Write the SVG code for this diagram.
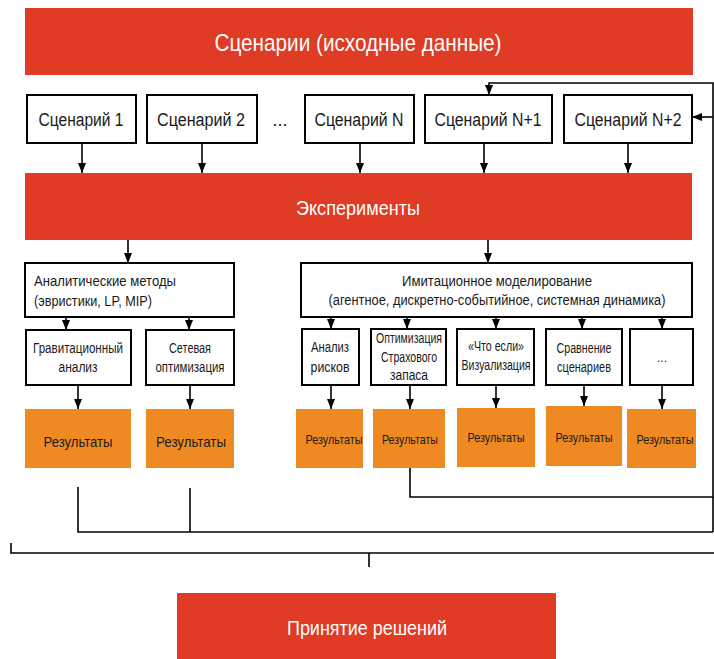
<svg xmlns="http://www.w3.org/2000/svg" width="714" height="659" viewBox="0 0 714 659">
<defs>
<marker id="arr" markerUnits="userSpaceOnUse" markerWidth="10" markerHeight="10" viewBox="0 0 10 10" refX="10" refY="5" orient="auto">
<path d="M0,1 L10,5 L0,9 Z" fill="#000"/>
</marker>
<style>
.red{fill:#E03B24}
.org{fill:#EF8A22}
.box{fill:#fff;stroke:#000;stroke-width:2}
.wt{fill:#fff;font-family:"Liberation Sans",Arial,sans-serif;text-anchor:middle}
.bt{fill:#1a1a1a;font-family:"Liberation Sans",Arial,sans-serif;text-anchor:middle}
.lt{fill:#1a1a1a;font-family:"Liberation Sans",Arial,sans-serif}
.c{fill:none;stroke:#000;stroke-width:1.6}
.a{fill:none;stroke:#000;stroke-width:1.6;marker-end:url(#arr)}
</style>
</defs>
<rect width="714" height="659" fill="#fff"/>

<g id="connectors">
<path class="a" d="M82 143 V173"/>
<path class="a" d="M202 143 V173"/>
<path class="a" d="M360 143 V173"/>
<path class="a" d="M484 143 V173"/>
<path class="a" d="M628 143 V173"/>
<path class="a" d="M128 240 V263"/>
<path class="a" d="M488 240 V263"/>
<path class="a" d="M66 317 V330"/>
<path class="a" d="M189 317 V330"/>
<path class="a" d="M331 317 V329"/>
<path class="a" d="M407 317 V329"/>
<path class="a" d="M496 317 V329"/>
<path class="a" d="M582 317 V329"/>
<path class="a" d="M662 317 V329"/>
<path class="a" d="M78 385 V409"/>
<path class="a" d="M190 385 V409"/>
<path class="a" d="M331 385 V409"/>
<path class="a" d="M410 385 V409"/>
<path class="a" d="M496 385 V408"/>
<path class="a" d="M584 385 V406"/>
<path class="a" d="M662 385 V409"/>
<path class="c" d="M78 487 V532 H713"/>
<path class="c" d="M190 488 V532"/>
<path class="a" d="M410 468 V497 H713 V83 H489 V95"/>
<path class="c" d="M713 497 V532"/>
<path class="a" d="M713 117 H692"/>
<path class="c" d="M11 543 V553 H714"/>
<path class="c" d="M369 553 V567"/>
</g>

<g id="scenarios-header">
<rect class="red" x="25" y="8" width="668" height="67"/>
<text class="wt" x="358" y="51" font-size="24" textLength="287" lengthAdjust="spacingAndGlyphs">Сценарии (исходные данные)</text>
</g>

<g id="s1"><rect class="box" x="27" y="95" width="109" height="48"/><text class="bt" x="81" y="126" font-size="18" textLength="85" lengthAdjust="spacingAndGlyphs">Сценарий 1</text></g>
<g id="s2"><rect class="box" x="147" y="95" width="110" height="48"/><text class="bt" x="201" y="126" font-size="18" textLength="88" lengthAdjust="spacingAndGlyphs">Сценарий 2</text></g>
<g id="dots"><text class="bt" x="280" y="126" font-size="18">...</text></g>
<g id="sN"><rect class="box" x="305" y="95" width="109" height="48"/><text class="bt" x="359" y="126" font-size="18" textLength="89" lengthAdjust="spacingAndGlyphs">Сценарий N</text></g>
<g id="sN1"><rect class="box" x="425" y="95" width="127" height="48"/><text class="bt" x="488" y="126" font-size="18" textLength="107" lengthAdjust="spacingAndGlyphs">Сценарий N+1</text></g>
<g id="sN2"><rect class="box" x="564" y="95" width="128" height="48"/><text class="bt" x="628" y="126" font-size="18" textLength="107" lengthAdjust="spacingAndGlyphs">Сценарий N+2</text></g>

<g id="experiments">
<rect class="red" x="25" y="173" width="667" height="67"/>
<text class="wt" x="358" y="215" font-size="20" textLength="124" lengthAdjust="spacingAndGlyphs">Эксперименты</text>
</g>

<g id="analytic">
<rect class="box" x="25" y="263" width="209" height="54"/>
<text class="lt" x="34" y="286" font-size="15" textLength="142" lengthAdjust="spacingAndGlyphs">Аналитические методы</text>
<text class="lt" x="34" y="306" font-size="15" textLength="118" lengthAdjust="spacingAndGlyphs">(эвристики, LP, MIP)</text>
</g>

<g id="imitation">
<rect class="box" x="301" y="263" width="391" height="54"/>
<text class="bt" x="497" y="286" font-size="15" textLength="190" lengthAdjust="spacingAndGlyphs">Имитационное моделирование</text>
<text class="bt" x="497" y="305" font-size="14" textLength="337" lengthAdjust="spacingAndGlyphs">(агентное, дискретно-событийное, системная динамика)</text>
</g>

<g id="grav"><rect class="box" x="26" y="330" width="105" height="55"/>
<text class="bt" x="78" y="353" font-size="14" textLength="90" lengthAdjust="spacingAndGlyphs">Гравитационный</text>
<text class="bt" x="78" y="372" font-size="14" textLength="39" lengthAdjust="spacingAndGlyphs">анализ</text></g>
<g id="net"><rect class="box" x="146" y="330" width="88" height="55"/>
<text class="bt" x="190" y="353" font-size="14" textLength="42" lengthAdjust="spacingAndGlyphs">Сетевая</text>
<text class="bt" x="190" y="372" font-size="14" textLength="69" lengthAdjust="spacingAndGlyphs">оптимизация</text></g>
<g id="risk"><rect class="box" x="302" y="329" width="57" height="56"/>
<text class="bt" x="330" y="352" font-size="14" textLength="38" lengthAdjust="spacingAndGlyphs">Анализ</text>
<text class="bt" x="330" y="372" font-size="14" textLength="39" lengthAdjust="spacingAndGlyphs">рисков</text></g>
<g id="stock"><rect class="box" x="371" y="329" width="75" height="56"/>
<text class="bt" x="409" y="343" font-size="14" textLength="66" lengthAdjust="spacingAndGlyphs">Оптимизация</text>
<text class="bt" x="409" y="362" font-size="14" textLength="56" lengthAdjust="spacingAndGlyphs">Страхового</text>
<text class="bt" x="409" y="380" font-size="14" textLength="38" lengthAdjust="spacingAndGlyphs">запаса</text></g>
<g id="whatif"><rect class="box" x="457" y="329" width="77" height="56"/>
<text class="bt" x="496" y="351" font-size="14" textLength="56" lengthAdjust="spacingAndGlyphs">«Что если»</text>
<text class="bt" x="496" y="370" font-size="14" textLength="69" lengthAdjust="spacingAndGlyphs">Визуализация</text></g>
<g id="compare"><rect class="box" x="546" y="329" width="76" height="56"/>
<text class="bt" x="584" y="353" font-size="14" textLength="55" lengthAdjust="spacingAndGlyphs">Сравнение</text>
<text class="bt" x="584" y="372" font-size="14" textLength="54" lengthAdjust="spacingAndGlyphs">сценариев</text></g>
<g id="more"><rect class="box" x="630" y="329" width="63" height="56"/>
<text class="bt" x="662" y="362" font-size="12">...</text></g>

<g id="r1"><rect class="org" x="25" y="409" width="106" height="59"/><text class="bt" x="78" y="447" font-size="15" textLength="69" lengthAdjust="spacingAndGlyphs">Результаты</text></g>
<g id="r2"><rect class="org" x="146" y="409" width="88" height="59"/><text class="bt" x="191" y="447" font-size="15" textLength="70" lengthAdjust="spacingAndGlyphs">Результаты</text></g>
<g id="r3"><rect class="org" x="296" y="409" width="67" height="59"/><text class="bt" x="334" y="444" font-size="13" textLength="57" lengthAdjust="spacingAndGlyphs">Результаты</text></g>
<g id="r4"><rect class="org" x="373" y="409" width="72" height="59"/><text class="bt" x="410" y="444" font-size="13" textLength="56" lengthAdjust="spacingAndGlyphs">Результаты</text></g>
<g id="r5"><rect class="org" x="457" y="408" width="78" height="59"/><text class="bt" x="496" y="442" font-size="13" textLength="57" lengthAdjust="spacingAndGlyphs">Результаты</text></g>
<g id="r6"><rect class="org" x="546" y="406" width="76" height="60"/><text class="bt" x="584" y="442" font-size="13" textLength="57" lengthAdjust="spacingAndGlyphs">Результаты</text></g>
<g id="r7"><rect class="org" x="627" y="409" width="69" height="59"/><text class="bt" x="665" y="444" font-size="13" textLength="57" lengthAdjust="spacingAndGlyphs">Результаты</text></g>

<g id="decision">
<rect class="red" x="177" y="593" width="379" height="66"/>
<text class="wt" x="367" y="635" font-size="20" textLength="160" lengthAdjust="spacingAndGlyphs">Принятие решений</text>
</g>
</svg>
